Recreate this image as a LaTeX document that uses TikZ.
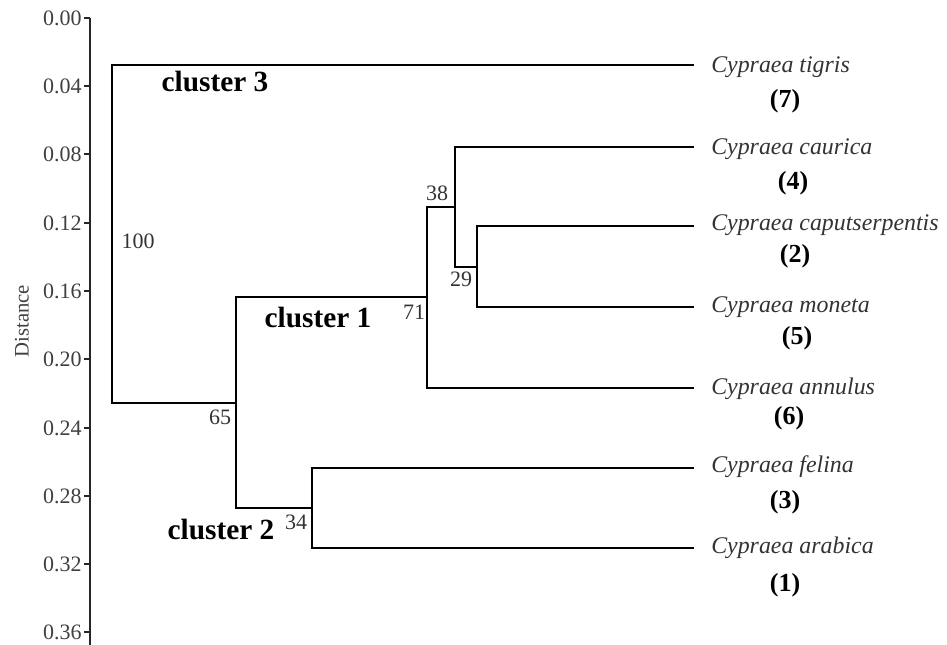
\documentclass[tikz,border=0pt]{standalone}
\usepackage{fontspec}
\setmainfont{Liberation Serif}
\begin{document}
\begin{tikzpicture}[x=0.75pt,y=-0.75pt,
  branch/.style={line width=1.7pt, line cap=rect},
  axisline/.style={line width=1.2pt, draw=black!85},
  ticklab/.style={anchor=east, inner sep=0pt, text=black!75, font=\fontsize{16.5}{18}\selectfont},
  boot/.style={inner sep=0pt, text=black!80, font=\fontsize{16.5}{18}\selectfont},
  species/.style={anchor=west, inner sep=0pt, text=black!80, font=\fontsize{17.9}{20}\selectfont\itshape},
  code/.style={inner sep=0pt, text=black, font=\fontsize{19.5}{21}\selectfont\bfseries},
  clus/.style={inner sep=0pt, text=black, font=\fontsize{22}{24}\selectfont\bfseries}]
\useasboundingbox (0,0) rectangle (947,645);
% axis
\coordinate (atop) at (90,18);
\coordinate (abot) at (90,645);
\draw[axisline] (atop) -- (abot);
\foreach \v/\y in {0.00/18,0.04/86,0.08/154,0.12/223,0.16/291,0.20/359,0.24/428,0.28/496,0.32/564,0.36/632}{
  \draw[axisline] (84,\y) -- (90,\y);
  \node[ticklab] at (82,\y) {\v};
}
\node[rotate=90, inner sep=0pt, text=black!75, font=\fontsize{15.5}{18}\selectfont] (dist) at (22,321) {Distance};
% internal nodes
\coordinate (r) at (112,403);
\coordinate (n65) at (236,403);
\coordinate (n71) at (427,297);
\coordinate (n34) at (312,508);
\coordinate (n38) at (455,207);
\coordinate (n29) at (477,267);
% leaf ends
\coordinate (tig) at (693,65);
\coordinate (cau) at (693,147);
\coordinate (cap) at (693,226);
\coordinate (mon) at (693,307);
\coordinate (ann) at (693,388);
\coordinate (fel) at (693,468);
\coordinate (ara) at (693,548);
% branches
\draw[branch] (r) |- (tig);
\draw[branch] (r) -- (n65);
\draw[branch] (n65) |- (n71);
\draw[branch] (n65) |- (n34);
\draw[branch] (n71) |- (n38);
\draw[branch] (n71) |- (ann);
\draw[branch] (n38) |- (cau);
\draw[branch] (n38) |- (n29);
\draw[branch] (n29) |- (cap);
\draw[branch] (n29) |- (mon);
\draw[branch] (n34) |- (fel);
\draw[branch] (n34) |- (ara);
% species
\node[species] (ltig) at (711,67) {Cypraea tigris};
\node[species] (lcau) at (711,149) {Cypraea caurica};
\node[species] (lcap) at (711,225) {Cypraea caputserpentis};
\node[species] (lmon) at (711,307) {Cypraea moneta};
\node[species] (lann) at (711,389) {Cypraea annulus};
\node[species] (lfel) at (711,467) {Cypraea felina};
\node[species] (lara) at (711,548) {Cypraea arabica};
\node[code] (ctig) at (785,101) {(7)};
\node[code] (ccau) at (793,183) {(4)};
\node[code] (ccap) at (795,256) {(2)};
\node[code] (cmon) at (797,338) {(5)};
\node[code] (cann) at (789,418) {(6)};
\node[code] (cfel) at (785,502) {(3)};
\node[code] (cara) at (785,585) {(1)};
% bootstrap values
\node[boot] (b100) at (138,241) {100};
\node[boot] (b38) at (437,193) {38};
\node[boot] (b29) at (461,279) {29};
\node[boot] (b71) at (414,312) {71};
\node[boot] (b65) at (220,417) {65};
\node[boot] (b34) at (296,522) {34};
% clusters
\node[clus] (k3) at (215,82) {cluster 3};
\node[clus] (k1) at (318,318) {cluster 1};
\node[clus] (k2) at (221,530) {cluster 2};
\end{tikzpicture}
\end{document}
